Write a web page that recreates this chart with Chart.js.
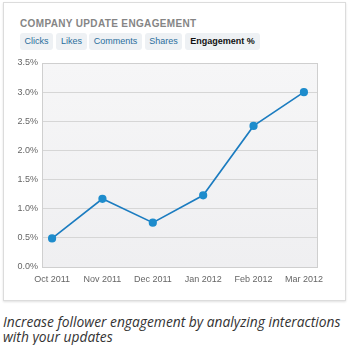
<!DOCTYPE html>
<html>
<head>
<meta charset="utf-8">
<script src="https://cdn.jsdelivr.net/npm/chart.js@4"></script>
<style>
  body { margin: 0; width: 350px; height: 345px; background: #fff; position: relative; overflow: hidden; font-family: "Liberation Sans", Arial, sans-serif; }
  .card { position: absolute; left: 3px; top: 2px; width: 341px; height: 297px; border: 1px solid #dcdcdc; box-shadow: 0 1px 2px rgba(0,0,0,0.12); background: #fff; }
  .title { position: absolute; left: 20px; top: 18px; font-size: 10px; font-weight: bold; color: #858585; letter-spacing: 0.35px; }
  .tabs { position: absolute; left: 20px; top: 33px; }
  .tab { position: absolute; top: 0; height: 17px; line-height: 17px; font-size: 9px; color: #2a6e9c; background: #eef1f4; border-radius: 3px; text-align: center; }
  .tab.on { color: #111; font-weight: bold; }
  .caption { position: absolute; left: 3px; top: 314px; font-family: "Open Sans", sans-serif; font-style: italic; font-size: 13.8px; line-height: 15px; color: #333; }
  canvas { position: absolute; left: 0; top: 0; }
</style>
</head>
<body>
<div class="card"></div>
<div class="title">COMPANY UPDATE ENGAGEMENT</div>
<div class="tabs">
  <div class="tab" style="left:0;width:33px">Clicks</div>
  <div class="tab" style="left:36px;width:31px">Likes</div>
  <div class="tab" style="left:69px;width:53px">Comments</div>
  <div class="tab" style="left:125px;width:37px">Shares</div>
  <div class="tab on" style="left:165px;width:75px">Engagement %</div>
</div>
<div class="caption">Increase follower engagement by analyzing interactions<br>with your updates</div>
<canvas id="chart" width="350" height="300"></canvas>
<script>
// ----- data -----
const months = ['Oct 2011', 'Nov 2011', 'Dec 2011', 'Jan 2012', 'Feb 2012', 'Mar 2012'];
const engagement = [0.49, 1.17, 0.76, 1.23, 2.42, 3.0];
const yTicks = [0, 0.5, 1.0, 1.5, 2.0, 2.5, 3.0, 3.5];

// plot background + frame
const plotBg = {
    id: 'plotBg',
    beforeDraw(chart) {
        const {ctx, chartArea: a} = chart;
        ctx.save();
        const g = ctx.createLinearGradient(0, a.top, 0, a.bottom);
        g.addColorStop(0, '#f6f6f7');
        g.addColorStop(1, '#efeff1');
        ctx.fillStyle = g;
        ctx.fillRect(a.left, a.top, a.right - a.left, a.bottom - a.top);
        ctx.restore();
    },
    afterDatasetsDraw(chart) {
        const {ctx, chartArea: a} = chart;
        ctx.save();
        ctx.strokeStyle = '#cfcfcf';
        ctx.lineWidth = 1;
        ctx.strokeRect(Math.round(a.left) + 0.5, Math.round(a.top) + 0.5, Math.round(a.right - a.left), Math.round(a.bottom - a.top));
        ctx.restore();
    }
};

const chart = new Chart(document.getElementById('chart'), {
    type: 'line',
    data: {
        datasets: [{
            data: engagement.map((v, i) => ({x: i, y: v})),
            borderColor: '#1b7cc0',
            borderWidth: 1.6,
            pointBackgroundColor: '#1e8ccc',
            pointBorderColor: '#1e8ccc',
            pointRadius: 3.3,
            tension: 0,
            fill: false
        }]
    },
    options: {
        responsive: false,
        animation: false,
        layout: {padding: {top: 63, right: 33, left: 0, bottom: 0}},
        plugins: {legend: {display: false}, tooltip: {enabled: false}},
        scales: {
            x: {
                type: 'linear',
                min: -0.2,
                max: 5.26,
                afterBuildTicks(scale) { scale.ticks = months.map((m, i) => ({value: i})); },
                afterFit(scale) { scale.height = 33; },
                grid: {display: false, drawTicks: false},
                border: {display: false},
                ticks: {
                    padding: 7,
                    maxRotation: 0,
                    autoSkip: false,
                    color: '#666',
                    font: {family: 'Liberation Sans', size: 9},
                    callback: (v) => months[v]
                }
            },
            y: {
                min: 0,
                max: 3.5,
                afterBuildTicks(scale) { scale.ticks = yTicks.map(v => ({value: v})); },
                afterFit(scale) { scale.width = 42; },
                grid: {color: '#d6d6d6', drawTicks: false, lineWidth: 1},
                border: {display: false},
                ticks: {
                    padding: 4,
                    color: '#666',
                    font: {family: 'Liberation Sans', size: 9},
                    callback: (v) => v.toFixed(1) + '%'
                }
            }
        }
    },
    plugins: [plotBg]
});
</script>
</body>
</html>
